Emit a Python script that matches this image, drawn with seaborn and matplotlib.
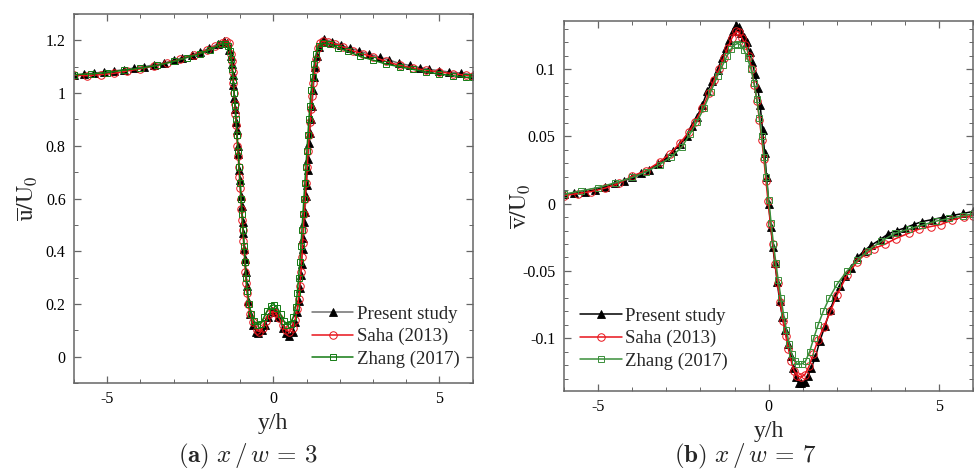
import numpy as np
import pandas as pd
import matplotlib
matplotlib.use("Agg")
import matplotlib.pyplot as plt
from matplotlib.ticker import MultipleLocator, FormatStrFormatter
import seaborn as sns

# ---------------- data: panel (a) x/w = 3, mean streamwise velocity ----------------
a_present_y = [-6.0, -5.7, -5.4, -5.1, -4.8, -4.5, -4.2, -3.9, -3.6, -3.3, -3.0, -2.75, -2.45, -2.2,
               -1.93, -1.68, -1.5, -1.4, -1.32, -1.28, -1.25, -1.22, -1.2, -1.17, -1.15, -1.12, -1.1,
               -1.07, -1.05, -1.02, -1.0, -0.97, -0.95, -0.92, -0.9, -0.87, -0.85, -0.82, -0.79, -0.75,
               -0.7, -0.62, -0.52, -0.45, -0.35, -0.25, -0.15, -0.05, 0.05, 0.15, 0.28, 0.38, 0.48,
               0.58, 0.66, 0.72, 0.76, 0.8, 0.83, 0.85, 0.88, 0.9, 0.93, 0.95, 0.98, 1.0, 1.03, 1.05,
               1.08, 1.1, 1.13, 1.16, 1.2, 1.23, 1.26, 1.3, 1.36, 1.45, 1.53, 1.78, 2.05, 2.3, 2.58,
               2.88, 3.2, 3.48, 3.78, 4.1, 4.4, 4.7, 5.0, 5.3, 5.65, 6.0]
a_present_u = [1.068, 1.072, 1.076, 1.080, 1.084, 1.089, 1.095, 1.100, 1.107, 1.114, 1.124, 1.134, 1.145,
               1.157, 1.170, 1.186, 1.196, 1.192, 1.165, 1.14, 1.11, 1.07, 1.03, 0.98, 0.94, 0.89, 0.86,
               0.80, 0.77, 0.71, 0.67, 0.61, 0.57, 0.51, 0.47, 0.41, 0.37, 0.32, 0.27, 0.21,
               0.16, 0.12, 0.095, 0.088, 0.10, 0.12, 0.15, 0.172, 0.17, 0.15, 0.11, 0.09, 0.078,
               0.095, 0.13, 0.17, 0.21, 0.26, 0.31, 0.35, 0.41, 0.45, 0.51, 0.55, 0.61, 0.65, 0.71, 0.75,
               0.81, 0.85, 0.90, 0.95, 1.01, 1.06, 1.10, 1.14, 1.175, 1.195, 1.205, 1.194, 1.181, 1.171,
               1.160, 1.148, 1.136, 1.126, 1.113, 1.105, 1.097, 1.090, 1.085, 1.080, 1.076, 1.070]

a_saha_y = [-6.0, -5.6, -5.2, -4.8, -4.4, -4.0, -3.6, -3.2, -2.8, -2.4, -2.0, -1.75, -1.55, -1.42, -1.33,
            -1.28, -1.25, -1.22, -1.2, -1.18, -1.16, -1.14, -1.12, -1.1, -1.08, -1.06, -1.04, -1.02,
            -1.0, -0.98, -0.96, -0.94, -0.92, -0.9, -0.88, -0.86, -0.84, -0.82, -0.79, -0.76, -0.7,
            -0.62, -0.5, -0.42, -0.32, -0.22, -0.12, -0.02, 0.08, 0.18, 0.28, 0.38, 0.48, 0.58, 0.66,
            0.72, 0.76, 0.8, 0.83, 0.86, 0.88, 0.9, 0.93, 0.96, 0.99, 1.02, 1.05, 1.08, 1.11, 1.14,
            1.17, 1.2, 1.24, 1.28, 1.33, 1.4, 1.5, 1.65, 1.85, 2.1, 2.4, 2.7, 3.0, 3.4, 3.8, 4.2,
            4.6, 5.0, 5.4, 5.8, 6.0]
a_saha_u = [1.068, 1.066, 1.07, 1.075, 1.084, 1.092, 1.103, 1.115, 1.128, 1.145, 1.162, 1.178, 1.19,
            1.197, 1.19, 1.15, 1.12, 1.08, 1.04, 1.0, 0.96, 0.92, 0.88, 0.84, 0.80, 0.76, 0.72, 0.68,
            0.64, 0.60, 0.56, 0.52, 0.48, 0.44, 0.40, 0.36, 0.32, 0.28, 0.24, 0.20, 0.16,
            0.13, 0.10, 0.095, 0.11, 0.135, 0.16, 0.172, 0.165, 0.145, 0.12, 0.10, 0.095, 0.11, 0.14,
            0.18, 0.22, 0.27, 0.32, 0.38, 0.43, 0.48, 0.54, 0.60, 0.66, 0.72, 0.78, 0.84, 0.89, 0.94,
            0.99, 1.04, 1.09, 1.13, 1.17, 1.19, 1.197, 1.195, 1.187, 1.175, 1.16, 1.148, 1.138, 1.12,
            1.105, 1.095, 1.087, 1.08, 1.074, 1.068, 1.063]

a_zhang_y = [-6.0, -5.5, -5.0, -4.5, -4.0, -3.5, -3.0, -2.6, -2.2, -1.9, -1.6, -1.45, -1.35, -1.3, -1.27,
             -1.24, -1.21, -1.18, -1.15, -1.12, -1.09, -1.06, -1.03, -1.0, -0.97, -0.94, -0.91, -0.88,
             -0.85, -0.82, -0.78, -0.73, -0.66, -0.58, -0.48, -0.38, -0.28, -0.18, -0.08, 0.02, 0.12,
             0.22, 0.32, 0.42, 0.52, 0.6, 0.67, 0.72, 0.76, 0.8, 0.83, 0.86, 0.89, 0.92, 0.95, 0.98,
             1.01, 1.04, 1.07, 1.1, 1.14, 1.18, 1.23, 1.29, 1.37, 1.5, 1.7, 1.95, 2.25, 2.6, 3.0,
             3.4, 3.8, 4.2, 4.6, 5.0, 5.4, 5.8, 6.0]
a_zhang_u = [1.07, 1.073, 1.078, 1.087, 1.095, 1.105, 1.12, 1.135, 1.15, 1.165, 1.185, 1.188, 1.18, 1.16,
             1.13, 1.09, 1.05, 1.0, 0.95, 0.90, 0.84, 0.78, 0.72, 0.66, 0.60, 0.54, 0.48, 0.42,
             0.36, 0.30, 0.25, 0.20, 0.16, 0.135, 0.12, 0.125, 0.15, 0.175, 0.193, 0.197, 0.185,
             0.16, 0.135, 0.12, 0.125, 0.15, 0.19, 0.24, 0.30, 0.36, 0.42, 0.48, 0.54, 0.60, 0.66, 0.72,
             0.78, 0.84, 0.90, 0.95, 1.01, 1.06, 1.11, 1.15, 1.18, 1.19, 1.185, 1.172, 1.158, 1.14, 1.125,
             1.11, 1.10, 1.09, 1.08, 1.072, 1.066, 1.06, 1.06]

# ---------------- data: panel (b) x/w = 7, mean transverse velocity ----------------
b_present_y = [-6.0, -5.7, -5.4, -5.1, -4.8, -4.5, -4.25, -4.0, -3.75, -3.5, -3.25, -3.0, -2.8, -2.6,
               -2.4, -2.25, -2.1, -1.95, -1.8, -1.65, -1.5, -1.37, -1.25, -1.15, -1.05, -0.96, -0.88,
               -0.8, -0.72, -0.64, -0.56, -0.48, -0.4, -0.32, -0.25, -0.18, -0.12, -0.06, 0.0, 0.06,
               0.12, 0.18, 0.25, 0.32, 0.4, 0.48, 0.56, 0.64, 0.72, 0.8, 0.88, 0.96, 1.05, 1.15, 1.25,
               1.37, 1.5, 1.65, 1.8, 1.95, 2.1, 2.25, 2.4, 2.6, 2.8, 3.0, 3.25, 3.5, 3.75, 4.0, 4.25,
               4.5, 4.8, 5.1, 5.4, 5.7, 6.0]
b_present_v = [0.007, 0.0078, 0.0087, 0.0103, 0.0125, 0.015, 0.0168, 0.0195, 0.0225, 0.0252, 0.0297,
               0.0345, 0.039, 0.044, 0.050, 0.0575, 0.0645, 0.073, 0.0835, 0.091, 0.0995, 0.108, 0.116,
               0.122, 0.128, 0.1325, 0.131, 0.127, 0.124, 0.12, 0.113, 0.105, 0.096, 0.086, 0.073,
               0.055, 0.038, 0.02, 0.0, -0.017, -0.032, -0.044, -0.058, -0.072, -0.084, -0.094, -0.104,
               -0.113, -0.122, -0.129, -0.1335, -0.133, -0.1325, -0.128, -0.122, -0.114, -0.102, -0.091,
               -0.079, -0.069, -0.061, -0.054, -0.048, -0.040, -0.035, -0.031, -0.027, -0.0225, -0.020,
               -0.018, -0.0155, -0.0133, -0.0118, -0.0102, -0.0087, -0.0073, -0.0057]

b_saha_y = [-6.0, -5.6, -5.2, -4.8, -4.4, -4.0, -3.6, -3.2, -2.9, -2.6, -2.35, -2.15, -1.95, -1.75, -1.6,
            -1.45, -1.32, -1.2, -1.08, -0.96, -0.88, -0.78, -0.68, -0.58, -0.5, -0.42, -0.34, -0.27,
            -0.2, -0.14, -0.08, -0.02, 0.05, 0.12, 0.19, 0.26, 0.34, 0.42, 0.5, 0.58, 0.66, 0.74, 0.84,
            0.95, 1.06, 1.18, 1.3, 1.45, 1.61, 1.81, 2.0, 2.3, 2.6, 2.85, 3.08, 3.42, 3.72, 4.1, 4.4,
            4.75, 5.05, 5.37, 5.72, 6.0]
b_saha_v = [0.006, 0.0075, 0.009, 0.0115, 0.015, 0.0205, 0.0245, 0.031, 0.037, 0.045, 0.053, 0.061,
            0.071, 0.082, 0.092, 0.1, 0.108, 0.116, 0.123, 0.128, 0.1275, 0.123, 0.118, 0.11, 0.1, 0.088,
            0.076, 0.062, 0.047, 0.033, 0.017, 0.002, -0.015, -0.03, -0.045, -0.059, -0.073, -0.087,
            -0.098, -0.108, -0.117, -0.124, -0.128, -0.129, -0.127, -0.121, -0.112, -0.101, -0.092,
            -0.080, -0.068, -0.053, -0.043, -0.037, -0.0334, -0.030, -0.026, -0.022, -0.019, -0.017,
            -0.0155, -0.0122, -0.0097, -0.009]

b_zhang_y = [-6.0, -5.5, -5.0, -4.5, -4.0, -3.6, -3.2, -2.85, -2.55, -2.3, -2.1, -1.9, -1.7, -1.5, -1.35,
             -1.22, -1.1, -1.0, -0.92, -0.82, -0.72, -0.62, -0.52, -0.43, -0.35, -0.27, -0.2, -0.13,
             -0.07, 0.0, 0.07, 0.14, 0.21, 0.28, 0.36, 0.44, 0.52, 0.6, 0.68, 0.76, 0.86, 0.98, 1.08,
             1.2, 1.32, 1.45, 1.6, 1.78, 2.0, 2.3, 2.6, 2.9, 3.3, 3.7, 4.1, 4.5, 4.9, 5.3, 5.7, 6.0]
b_zhang_v = [0.007, 0.0095, 0.012, 0.0155, 0.0195, 0.0235, 0.029, 0.035, 0.042, 0.052, 0.061, 0.071,
             0.083, 0.095, 0.103, 0.11, 0.115, 0.118, 0.119, 0.118, 0.114, 0.108, 0.1, 0.09, 0.078,
             0.064, 0.05, 0.035, 0.02, 0.003, -0.014, -0.03, -0.044, -0.057, -0.07, -0.083, -0.094,
             -0.104, -0.112, -0.117, -0.1195, -0.119, -0.117, -0.11, -0.1, -0.09, -0.08, -0.07, -0.06,
             -0.05, -0.042, -0.035, -0.028, -0.022, -0.019, -0.016, -0.013, -0.011, -0.009, -0.0075]

labels = ["Present study", "Saha (2013)", "Zhang (2017)"]

# ---------------- style ----------------
sns.set_theme(style="ticks")
plt.rcParams["font.family"] = ["Liberation Serif", "DejaVu Serif"]
plt.rcParams["mathtext.fontset"] = "stix"
plt.rcParams["axes.unicode_minus"] = False

fig = plt.figure(figsize=(9.75, 4.71), dpi=100)
ax1 = fig.add_axes([0.0759, 0.1868, 0.4089, 0.7834])
ax2 = fig.add_axes([0.5785, 0.1705, 0.4198, 0.7856])


def draw(ax, series, pres_color, green):
    styles = [
        dict(color=pres_color, marker="^", markersize=5.4, markerfacecolor="black",
             markeredgecolor="black", markeredgewidth=0.6),
        dict(color="#e8141b", marker="o", markersize=5.4, markerfacecolor="none",
             markeredgecolor="#e8141b", markeredgewidth=0.7),
        dict(color=green, marker="s", markersize=4.8, markerfacecolor="none",
             markeredgecolor=green, markeredgewidth=0.7),
    ]
    for (xs, ys), lab, st in zip(series, labels, styles):
        df = pd.DataFrame({"y/h": xs, "val": ys})
        sns.lineplot(data=df, x="y/h", y="val", ax=ax, sort=False, estimator=None,
                     linewidth=1.1, label=lab, **st)


draw(ax1, [(a_present_y, a_present_u), (a_saha_y, a_saha_u), (a_zhang_y, a_zhang_u)],
     "#707070", "#137a13")
draw(ax2, [(b_present_y, b_present_v), (b_saha_y, b_saha_v), (b_zhang_y, b_zhang_v)],
     "black", "#3a8f3a")

spine_col = "#666666"
for ax in (ax1, ax2):
    ax.set_xlim(-6, 6)
    ax.xaxis.set_major_locator(MultipleLocator(5))
    ax.xaxis.set_minor_locator(MultipleLocator(1))
    ax.tick_params(which="both", direction="in", top=True, right=True,
                   color=spine_col, labelsize=11.5, labelcolor="black", pad=6)
    ax.tick_params(which="major", length=5, width=0.9)
    ax.tick_params(which="minor", length=2.8, width=0.7)
    for s in ax.spines.values():
        s.set_color(spine_col)
        s.set_linewidth(1.1)
    ax.set_xlabel("y/h", fontsize=17, labelpad=4)
    ax.legend(frameon=False, fontsize=13.5, handlelength=2.2, handletextpad=0.2,
              labelspacing=0.28, borderpad=0, borderaxespad=0, loc="upper left")

ax1.set_ylim(-0.1, 1.3)
ax1.yaxis.set_major_locator(MultipleLocator(0.2))
ax1.yaxis.set_minor_locator(MultipleLocator(0.1))
ax1.yaxis.set_major_formatter(FormatStrFormatter("%g"))
ax1.set_ylabel(r"$\overline{\mathrm{u}}/\mathrm{U}_0$", fontsize=17)
ax1.yaxis.set_label_coords(-0.085, 0.5)
ax1.legend_.set_bbox_to_anchor((0.597, 0.21))

ax2.set_ylim(-0.139, 0.136)
ax2.yaxis.set_major_locator(MultipleLocator(0.05))
ax2.yaxis.set_minor_locator(MultipleLocator(0.01))
ax2.yaxis.set_major_formatter(FormatStrFormatter("%g"))
ax2.set_ylabel(r"$\overline{\mathrm{v}}/\mathrm{U}_0$", fontsize=17)
ax2.yaxis.set_label_coords(-0.076, 0.5)
ax2.legend_.set_bbox_to_anchor((0.04, 0.225))

fig.text(248 / 975, 1 - 456 / 471, r"$(\mathbf{a})\ x\,/\,w\,=\,3$", ha="center", va="center",
         fontsize=18, math_fontfamily="cm")
fig.text(745 / 975, 1 - 456 / 471, r"$(\mathbf{b})\ x\,/\,w\,=\,7$", ha="center", va="center",
         fontsize=18, math_fontfamily="cm")

fig.savefig("out.png", dpi=100)
